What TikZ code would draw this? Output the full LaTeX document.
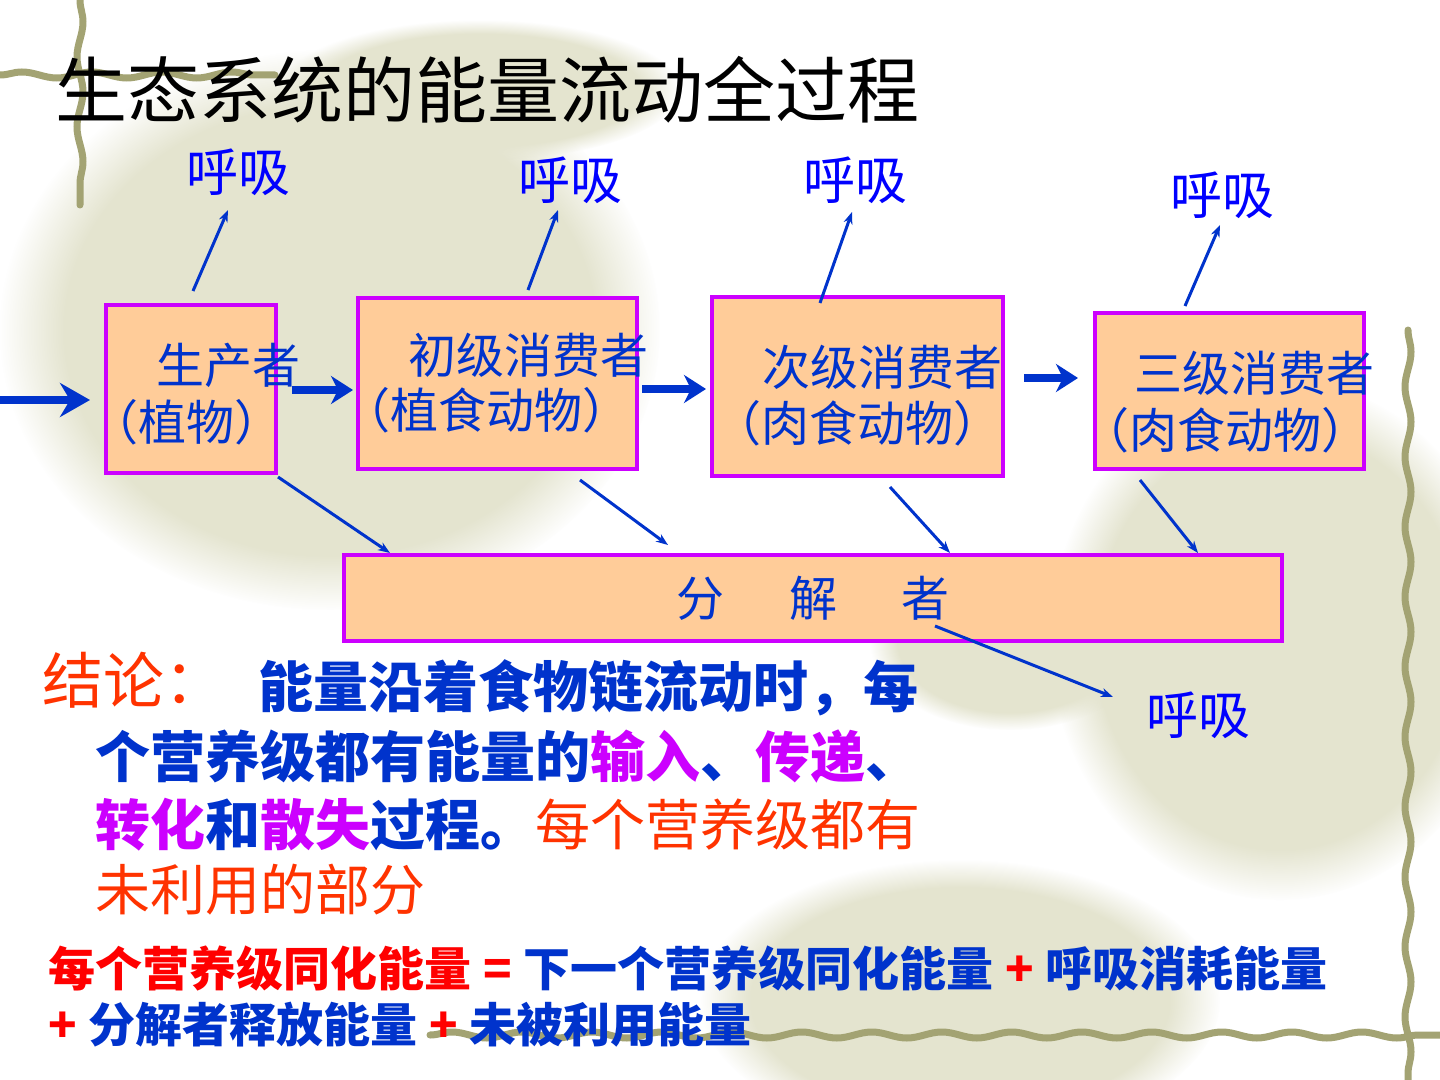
\documentclass[tikz,border=0pt]{standalone}
\usepackage{fontspec}
\setmainfont{Liberation Sans}
\newfontfamily\cjk{Noto Sans CJK SC}
\usetikzlibrary{arrows.meta,calc,decorations.pathmorphing,fadings}
\definecolor{boxfill}{HTML}{FFCC99}
\definecolor{boxline}{HTML}{CC00FF}
\definecolor{txtblue}{HTML}{0033CC}
\definecolor{respblue}{HTML}{0000FF}
\definecolor{orangered}{HTML}{FF3300}
\definecolor{violettxt}{HTML}{CC00FF}
\definecolor{fred}{HTML}{FF0000}
\definecolor{vinecol}{HTML}{A3A373}
\definecolor{blobcol}{HTML}{E4E4CF}
\begin{document}
\begin{tikzpicture}[x=0.5pt,y=-0.5pt,
  box/.style={draw=boxline, line width=2pt, fill=boxfill, inner sep=0pt},
  boxtxt/.style={text=txtblue, font=\cjk\fontsize{24pt}{28pt}\selectfont, anchor=west, inner sep=0pt},
  resptxt/.style={text=respblue, font=\cjk\fontsize{26pt}{30pt}\selectfont, inner sep=0pt},
  titletxt/.style={text=black, font=\cjk\fontsize{36pt}{40pt}\selectfont, anchor=west, inner sep=0pt},
  concb/.style={text=txtblue, font=\cjk\bfseries\fontsize{27.5pt}{32pt}\selectfont, anchor=west, inner sep=0pt},
  concr/.style={text=orangered, font=\cjk\fontsize{27.5pt}{32pt}\selectfont, anchor=west, inner sep=0pt},
  formtxt/.style={text=txtblue, font=\cjk\bfseries\fontsize{23.5pt}{28pt}\selectfont, anchor=west, inner sep=0pt},
  fatarrow/.style={draw=txtblue, line width=4pt, -{Stealth[length=11pt, width=14pt, inset=3.5pt]}},
  resparrow/.style={draw=txtblue, line width=1.5pt, -{Stealth[length=6pt, width=4.5pt]}},
  vine/.style={draw=vinecol, line width=3.5pt, line cap=round, decorate, decoration={snake, amplitude=1.5pt, segment length=35pt}},
  blob/.style={fill=blobcol, path fading=circle with fuzzy edge 20 percent}
]
\useasboundingbox (0,0) rectangle (1440,1080);
\fill[white] (0,0) rectangle (1440,1080);

% faint background leaves
\fill[blob] (330,330) ellipse (330 and 280);
\fill[blob] (480,90) ellipse (200 and 70);
\fill[blob] (1280,640) ellipse (230 and 260);
\fill[blob] (960,1000) ellipse (260 and 140);
\fill[blob] (1010,640) ellipse (140 and 90);

% vines
\draw[vine] (80,0) -- (80,205);
\draw[vine] (0,75) -- (275,75);
\draw[vine] (1408,330) -- (1408,1080);
\draw[vine] (430,1035) -- (1440,1035);

% title
\node[titletxt] (title) at (55,90) {生态系统的能量流动全过程};

% boxes
\node[box, minimum width=85pt, minimum height=84pt] (prod) at (191,389) {};
\node[box, minimum width=139.5pt, minimum height=85.5pt] (prim) at (497.5,383.5) {};
\node[box, minimum width=145.5pt, minimum height=89.5pt] (sec) at (857.5,386.5) {};
\node[box, minimum width=134.5pt, minimum height=78pt] (tert) at (1229.5,391) {};
\node[box, minimum width=469pt, minimum height=43pt, text=txtblue, font=\cjk\fontsize{24pt}{28pt}\selectfont] (dec) at (813,598) {分\hspace{32.5pt}解\hspace{32.5pt}者};

% box texts
\node[boxtxt] (prodA) at (156,365) {生产者};
\node[boxtxt] (prodB) at (90,422) {（植物）};
\node[boxtxt] (primA) at (408,355) {初级消费者};
\node[boxtxt] (primB) at (342,410) {（植食动物）};
\node[boxtxt] (secA) at (762,367) {次级消费者};
\node[boxtxt] (secB) at (713,423) {（肉食动物）};
\node[boxtxt] (tertA) at (1134,373) {三级消费者};
\node[boxtxt] (tertB) at (1081,430) {（肉食动物）};

% respiration labels
\node[resptxt] (r1) at (238,172) {呼吸};
\node[resptxt] (r2) at (570,180) {呼吸};
\node[resptxt] (r3) at (855,180) {呼吸};
\node[resptxt] (r4) at (1222,195) {呼吸};
\node[resptxt] (r5) at (1198,715) {呼吸};

% main energy flow arrows
\coordinate (sun) at (0,400);
\draw[draw=txtblue, line width=4pt, -{Stealth[length=15pt, width=17pt, inset=5pt]}] (sun) -- ($(sun -| prod.west)+(-14,0)$);
\draw[fatarrow] ($(prod.east)+(14,1)$) -- ($(prod.east -| prim.west)+(-3,1)$);
\draw[fatarrow] ($(sec.west -| prim.east)+(3,2.5)$) -- ($(sec.west)+(-4,2.5)$);
\draw[fatarrow] ($(sec.east)+(19,-8.5)$) -- ($(tert.west)+(-15,-13)$);

% respiration arrows
\draw[resparrow] ($(prod.north)+(2,-12)$) -- ($(r1)+(-10,38)$);
\draw[resparrow] ($(prim.north)+(30.5,-6)$) -- ($(r2)+(-12,30)$);
\draw[resparrow] ($(sec.north)+(-37.5,8)$) -- ($(r3)+(-3,32)$);
\draw[resparrow] ($(tert.north)+(-44.5,-5)$) -- ($(r4)+(-2,30)$);
\draw[resparrow] ($(dec.south)+(122,-17)$) -- ($(r5)+(-85,-18)$);

% arrows to decomposers
\draw[resparrow] ($(prod.south east)+(0,2)$) -- ($(dec.north west)+(48,0)$);
\draw[resparrow] ($(prim.south)+(82.5,9)$) -- ($(dec.north west)+(326,-8)$);
\draw[resparrow] ($(sec.south)+(32.5,9)$) -- ($(dec.north west)+(608,0)$);
\draw[resparrow] ($(tert.south)+(-89.5,9)$) -- ($(dec.north west)+(856,0)$);

% conclusion
\node[concr, font=\cjk\fontsize{30.5pt}{34pt}\selectfont] (concl) at (42,680) {结论：};
\node[concb] (c1) at (258,688) {能量沿着食物链流动时，每};
\node[concb] (c2) at (95,757) {个营养级都有能量的\textcolor{violettxt}{输入}、\textcolor{violettxt}{传递}、};
\node[concb] (c3) at (95,825) {\textcolor{violettxt}{转化}和\textcolor{violettxt}{散失}过程。\textcolor{orangered}{\mdseries 每个营养级都有}};
\node[concr] (c4) at (95,890) {未利用的部分};

% formula
\node[formtxt] (f1) at (48,968) {\textcolor{fred}{每个营养级同化能量\hspace{0.25em}=\hspace{0.25em}}下一个营养级同化能量\hspace{0.25em}\textcolor{fred}{+}\hspace{0.25em}呼吸消耗能量};
\node[formtxt] (f2) at (48,1025) {\textcolor{fred}{+}\hspace{0.25em}分解者释放能量\hspace{0.25em}\textcolor{fred}{+}\hspace{0.25em}未被利用能量};
\end{tikzpicture}
\end{document}
